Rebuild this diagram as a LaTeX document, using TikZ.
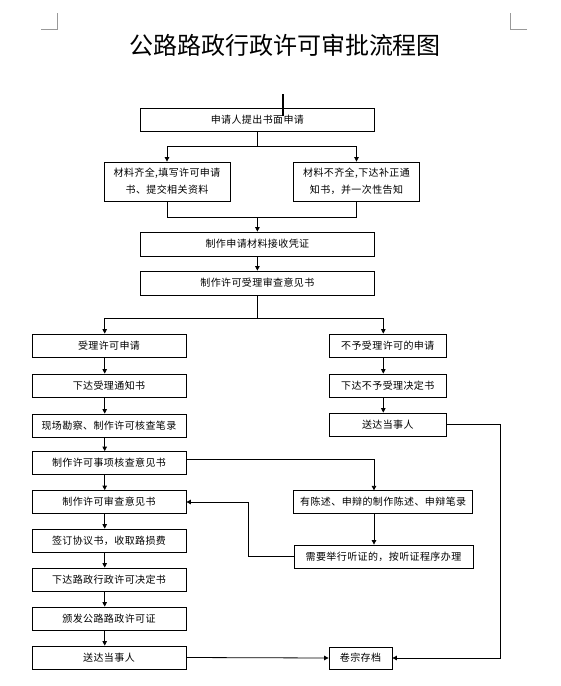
\documentclass[tikz,border=0pt]{standalone}
\usepackage{fontspec}
\newfontfamily\cjk[LetterSpace=4]{Noto Sans CJK SC}
\newfontfamily\cjktitle{Noto Sans CJK SC}
\usetikzlibrary{arrows.meta}
\tikzset{
  box/.style={draw=black, line width=0.8pt, inner sep=0pt, align=center,
    font=\cjk\fontsize{10}{17}\selectfont},
  arr/.style={draw=black, line width=0.8pt, -{Triangle[length=4.5pt,width=4.5pt]}},
  ln/.style={draw=black, line width=0.8pt},
  cropmark/.style={draw=black!40, line width=0.8pt},
}
\begin{document}
\begin{tikzpicture}[x=1pt,y=-1pt]
\useasboundingbox (0,0) rectangle (561,686);
% crop marks
\draw[cropmark] (41,29.5) -- (57.5,29.5) -- (57.5,13);
\draw[cropmark] (527,29.5) -- (510,29.5) -- (510,13);
% title
\node[font=\cjktitle\fontsize{24}{30}\selectfont, inner sep=0pt] (title) at (285,45.5) {公路路政行政许可审批流程图};
% cursor
\draw[line width=2pt] (283,94) -- (283,116);
% top part
\node[box, minimum width=233.3pt, minimum height=23pt] (b1) at (257.4,119.5) {申请人提出书面申请};
\node[box, minimum width=126pt, minimum height=39pt] (b2a) at (167,181.5) {材料齐全,填写许可申请\\书、提交相关资料};
\node[box, minimum width=126.4pt, minimum height=39pt] (b2b) at (356.5,181.5) {材料不齐全,下达补正通\\知书，并一次性告知};
\node[box, minimum width=233.3pt, minimum height=24pt] (b3) at (257.4,244) {制作申请材料接收凭证};
\node[box, minimum width=233.3pt, minimum height=24pt] (b4) at (257.4,283) {制作许可受理审查意见书};
% left column
\tikzset{lbox/.style={box, minimum width=154pt, minimum height=23pt}}
\node[lbox] (L1) at (109,345.5) {受理许可申请};
\node[lbox] (L2) at (109,385.5) {下达受理通知书};
\node[lbox] (L3) at (109,425.5) {现场勘察、制作许可核查笔录};
\node[lbox] (L4) at (109,463) {制作许可事项核查意见书};
\node[lbox] (L5) at (109,502) {制作许可审查意见书};
\node[lbox] (L6) at (109,540.5) {签订协议书，收取路损费};
\node[lbox] (L7) at (109,579.5) {下达路政行政许可决定书};
\node[lbox] (L8) at (109,618.5) {颁发公路路政许可证};
\node[lbox] (L9) at (109,657.5) {送达当事人};
% right column
\tikzset{rbox/.style={box, minimum width=117.7pt, minimum height=23pt}}
\node[rbox] (R1) at (387.8,345.5) {不予受理许可的申请};
\node[rbox] (R2) at (387.8,385.5) {下达不予受理决定书};
\node[rbox] (R3) at (387.8,424.5) {送达当事人};
\node[box, minimum width=179pt, minimum height=22.5pt] (R4) at (383.2,502) {有陈述、申辩的制作陈述、申辩笔录};
\node[box, minimum width=179pt, minimum height=23pt] (R5) at (383.5,556.5) {需要举行听证的，按听证程序办理};
\node[box, minimum width=63pt, minimum height=22pt] (A) at (360.5,658) {卷宗存档};
% helper coordinates
\coordinate (lx) at (104.7,0);
\coordinate (rx) at (383.3,0);
\coordinate (j1) at (257.4,146);
\coordinate (j2) at (257.4,217);
\coordinate (j3) at (257.4,318);
\coordinate (k1) at (500,0);
\coordinate (k2) at (374,0);
\coordinate (k3) at (248.7,502);
% connectors top
\draw[ln] (b1.south) -- (j1);
\draw[arr] (j1) -| (b2a.north);
\draw[arr] (j1) -| (b2b.north);
\draw[ln] (b2a.south) |- (j2);
\draw[ln] (b2b.south) |- (j2);
\draw[arr] (j2) -- (b3.north);
\draw[arr] (b3.south) -- (b4.north);
\draw[ln] (b4.south) -- (j3);
\draw[arr] (j3) -| (L1.north -| lx);
\draw[arr] (j3) -| (R1.north -| rx);
% left chain
\foreach \a/\b in {L1/L2,L2/L3,L3/L4,L4/L5,L5/L6,L6/L7,L7/L8,L8/L9}
  \draw[arr] (\a.south -| lx) -- (\b.north -| lx);
% right chain
\draw[arr] (R1.south -| rx) -- (R2.north -| rx);
\draw[arr] (R2.south -| rx) -- (R3.north -| rx);
\draw[arr] (R3.east) -| (k1 |- A.east) -- (A.east);
\draw[arr] (L9.east) -- (A.west);
% hearing branch
\draw[arr] ([yshift=4pt]L4.east) -| (R4.north -| k2);
\draw[arr] (R4.south -| k2) -- (R5.north -| k2);
\draw[arr] (R5.west) -| (k3) -- (L5.east);
\end{tikzpicture}
\end{document}
